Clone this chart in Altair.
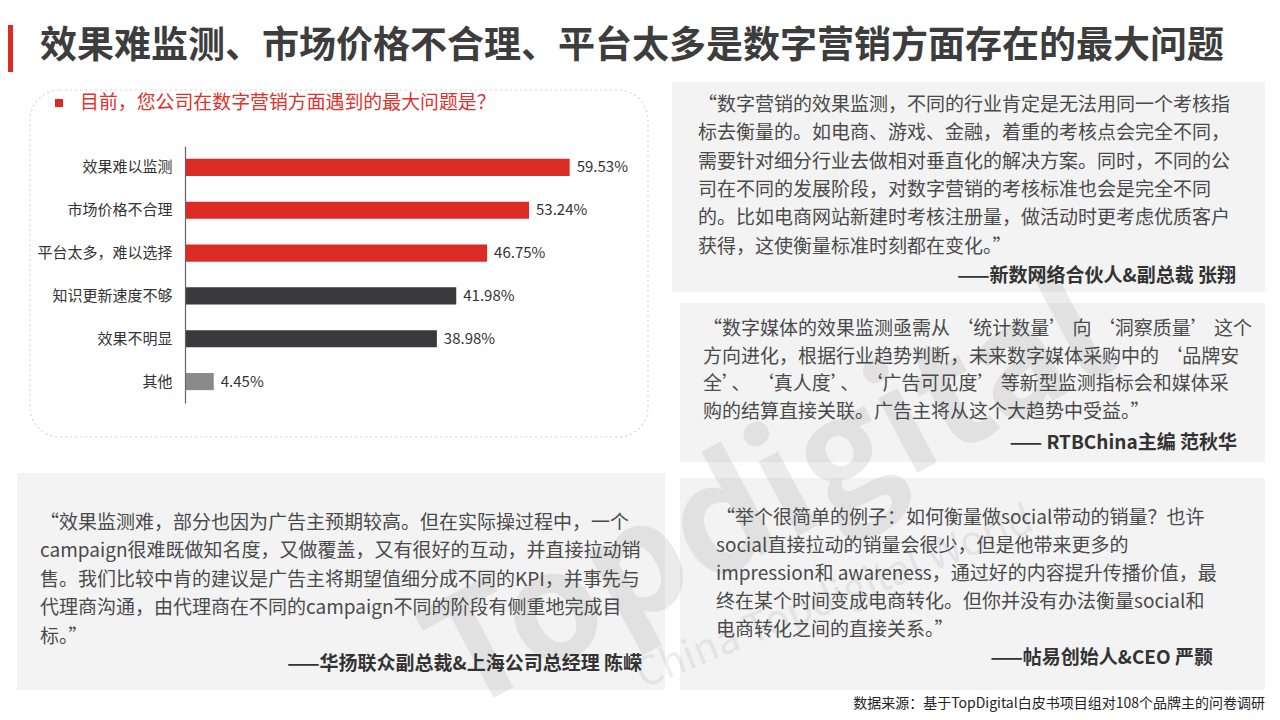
import altair as alt
import pandas as pd

# ---------------- data ----------------
categories = ["效果难以监测", "市场价格不合理", "平台太多，难以选择", "知识更新速度不够", "效果不明显", "其他"]
values = [59.53, 53.24, 46.75, 41.98, 38.98, 4.45]
bar_colors = ["#dc2b25", "#dc2b25", "#dc2b25", "#3a3a3c", "#3a3a3c", "#8a8a8a"]

title_text = "效果难监测、市场价格不合理、平台太多是数字营销方面存在的最大问题"
subtitle_text = "目前，您公司在数字营销方面遇到的最大问题是？"

quote1 = [
    "“数字营销的效果监测，不同的行业肯定是无法用同一个考核指",
    "标去衡量的。如电商、游戏、金融，着重的考核点会完全不同，",
    "需要针对细分行业去做相对垂直化的解决方案。同时，不同的公",
    "司在不同的发展阶段，对数字营销的考核标准也会是完全不同",
    "的。比如电商网站新建时考核注册量，做活动时更考虑优质客户",
    "获得，这使衡量标准时刻都在变化。”",
]
author1 = "——新数网络合伙人&副总裁 张翔"

quote2 = [
    "“数字媒体的效果监测亟需从 ‘统计数量’ 向 ‘洞察质量’ 这个",
    "方向进化，根据行业趋势判断，未来数字媒体采购中的 ‘品牌安",
    "全’、 ‘真人度’、 ‘广告可见度’ 等新型监测指标会和媒体采",
    "购的结算直接关联。广告主将从这个大趋势中受益。”",
]
author2 = "—— RTBChina主编 范秋华"

quote3 = [
    "“效果监测难，部分也因为广告主预期较高。但在实际操过程中，一个",
    "campaign很难既做知名度，又做覆盖，又有很好的互动，并直接拉动销",
    "售。我们比较中肯的建议是广告主将期望值细分成不同的KPI，并事先与",
    "代理商沟通，由代理商在不同的campaign不同的阶段有侧重地完成目",
    "标。”",
]
author3 = "——华扬联众副总裁&上海公司总经理 陈嵘"

quote4 = [
    "“举个很简单的例子：如何衡量做social带动的销量？也许",
    "social直接拉动的销量会很少，但是他带来更多的",
    "impression和 awareness，通过好的内容提升传播价值，最",
    "终在某个时间变成电商转化。但你并没有办法衡量social和",
    "电商转化之间的直接关系。”",
]
author4 = "——帖易创始人&CEO 严颢"

source_text = "数据来源：基于TopDigital白皮书项目组对108个品牌主的问卷调研"
watermark = "Topdigital"
watermark_small = "China Topdigital World"

FONT = "Noto Sans CJK SC"

# ---------------- layout helpers (page pixel -> plot pixel) ----------------
OX, OY = 185, 146          # screen position of the plot origin
W, H = 420, 257


def X(sx):
    return sx - OX


def Y(sy):
    return sy - OY


def one():
    return alt.Chart(alt.Data(values=[{"k": 0}]))


def rect(x1, y1, x2, y2, **kw):
    return one().mark_rect(**kw).encode(
        x=alt.value(X(x1)), x2=alt.value(X(x2)), y=alt.value(Y(y1)), y2=alt.value(Y(y2))
    )


def text(lines, sx, sy, size, color, weight="normal", align="left", lh=None, **kw):
    if isinstance(lines, list):
        return one().mark_text(
            text=lines, align=align, baseline="line-top", lineHeight=lh, fontSize=size,
            font=FONT, color=color, fontWeight=weight, **kw
        ).encode(x=alt.value(X(sx)), y=alt.value(Y(sy - lh / 2)))
    return one().mark_text(
        text=lines, align=align, baseline="middle", fontSize=size,
        font=FONT, color=color, fontWeight=weight, **kw
    ).encode(x=alt.value(X(sx)), y=alt.value(Y(sy)))


# ---------------- decorations ----------------
panel_fill = "#f3f3f4"
panels = [
    rect(672, 82, 1265, 292, fill=panel_fill),
    rect(680, 303, 1265, 462, fill=panel_fill),
    rect(17, 473, 665, 690, fill=panel_fill),
    rect(680, 478, 1265, 690, fill=panel_fill),
]

left_box = rect(30, 90, 648, 437, fill="white", stroke="#d6d6d6", strokeWidth=1.2,
                strokeDash=[2, 3], cornerRadius=30)

wm = text(watermark, 770, 500, 150, "#8a8a8a", weight="bold", align="center",
          angle=332, opacity=0.16)
wm2 = text(watermark_small, 835, 598, 40, "#8a8a8a", align="center",
           angle=338, opacity=0.14)

red_tab = rect(0, 25, 13, 72, fill="#dc2b25")
title = text(title_text, 40, 47, 37, "#3d3d3d", weight="bold")

sub_sq = rect(55, 99, 63, 107, fill="#dc2b25")
subtitle = text(subtitle_text, 80, 103, 18.9, "#e0322c")

qcolor = "#4a4a4a"
acolor = "#333333"
q1 = text(quote1, 698, 105, 19, qcolor, lh=28.4)
a1 = text(author1, 1236, 276, 19, acolor, weight="bold", align="right")
q2 = text(quote2, 703, 330, 19, qcolor, lh=27.5)
a2 = text(author2, 1237, 443, 19, acolor, weight="bold", align="right")
q3 = text(quote3, 40, 523, 19, qcolor, lh=28.5)
a3 = text(author3, 642, 664, 19, acolor, weight="bold", align="right")
q4 = text(quote4, 716, 518, 19, qcolor, lh=28)
a4 = text(author4, 1213, 658, 19, acolor, weight="bold", align="right")

source = text(source_text, 1265, 704, 14, "#222222", align="right")

# ---------------- bar chart ----------------
df = pd.DataFrame({"cat": categories, "val": values})

y_enc = alt.Y(
    "cat:N",
    sort=categories,
    scale=alt.Scale(domain=categories, paddingInner=0.6, paddingOuter=0.3),
    axis=alt.Axis(title=None, ticks=False, grid=False, domain=True, domainColor="#666666",
                  domainWidth=1.2, labelFont=FONT, labelFontSize=15, labelColor="#333333",
                  labelPadding=13, zindex=1),
)
x_enc = alt.X("val:Q", scale=alt.Scale(domain=[0, 65], nice=False, zero=True), axis=None)

bars = alt.Chart(df).mark_bar().encode(
    x=x_enc,
    y=y_enc,
    color=alt.Color("cat:N", scale=alt.Scale(domain=categories, range=bar_colors), legend=None),
)

labels = alt.Chart(df).transform_calculate(
    lab="format(datum.val, '.2f') + '%'"
).mark_text(align="left", baseline="middle", dx=7, fontSize=15, font=FONT, color="#333333").encode(
    x=x_enc, y=y_enc, text="lab:N"
)

chart = alt.layer(
    *panels, wm, wm2, left_box, red_tab, title, sub_sq, subtitle,
    bars, labels,
    q1, a1, q2, a2, q3, a3, q4, a4, source,
).properties(
    width=W,
    height=H,
    padding={"left": OX - 8, "top": OY - 8, "right": 1264 - (OX - 8) - W, "bottom": 704 - (OY - 8) - H},
    autosize=alt.AutoSizeParams(type="none"),
    background="white",
).configure_view(stroke=None)

chart.save("out.html", embed_options={"renderer": "svg", "actions": False})
